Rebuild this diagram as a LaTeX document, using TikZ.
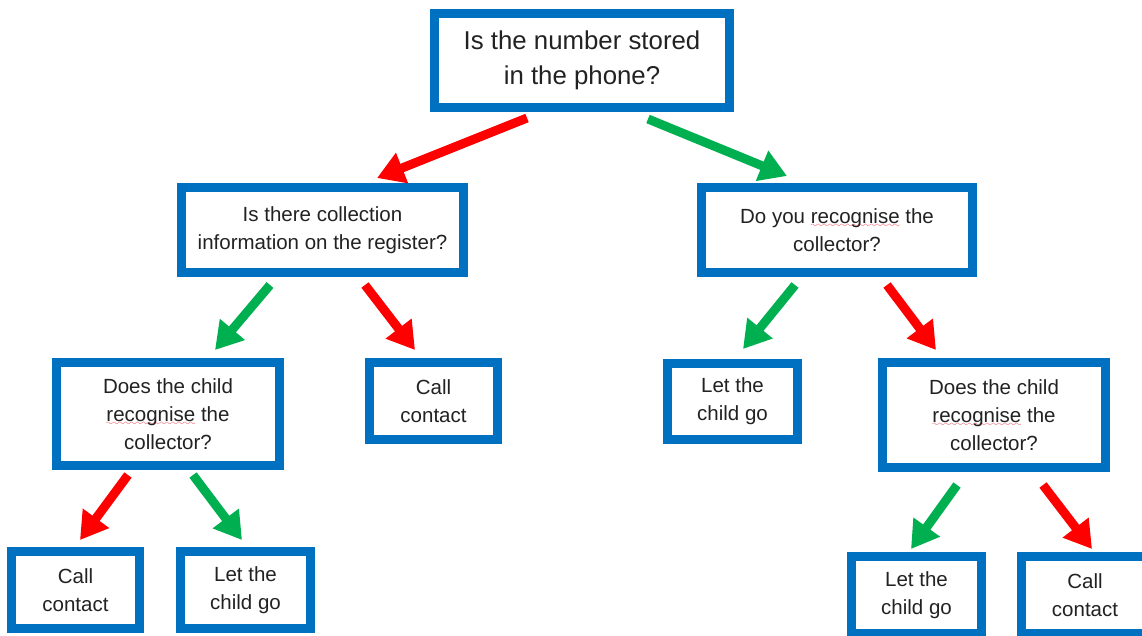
\documentclass[tikz,border=0pt]{standalone}
\usepackage{fontspec}
\setmainfont{Liberation Sans}
\usetikzlibrary{arrows.meta}
\definecolor{boxblue}{HTML}{0070C0}
\definecolor{arrred}{HTML}{FF0000}
\definecolor{arrgreen}{HTML}{00B050}
\definecolor{txt}{HTML}{222222}
\definecolor{spellred}{HTML}{E81123}
\font\wavefont=lasy10 at 8.5pt
\newsavebox\spellbox
\newcommand\spell[1]{\sbox\spellbox{#1}\rlap{\raisebox{-4pt}[0pt][0pt]{\hbox to\wd\spellbox{\color{spellred}\xleaders\hbox{\wavefont\char58}\hfill}}}\usebox\spellbox}
\begin{document}
\begin{tikzpicture}[x=1pt,y=-1pt,
  box/.style={draw=boxblue, line width=9pt, fill=white, inner sep=0pt, align=center, text=txt,
    font=\fontsize{20.5}{28}\selectfont},
  yesarrow/.style={draw=arrgreen, line width=9pt, -{Triangle[width=31pt,length=27pt]}},
  noarrow/.style={draw=arrred, line width=9pt, -{Triangle[width=31pt,length=27pt]}}]
\useasboundingbox (0,0) rectangle (1142,635);
\clip (0,0) rectangle (1142,635);

\node[box, minimum width=295pt, minimum height=94pt, font=\fontsize{25.8}{35}\selectfont] (top) at (582,60.5) {Is the number stored\\in the phone?};
\node[box, minimum width=282pt, minimum height=85pt] (reg) at (322.5,230) {Is there collection\\information on the register?};
\node[box, minimum width=271pt, minimum height=85pt] (you) at (837,230) {Do you \spell{recognise} the\\collector?};
\node[box, minimum width=223pt, minimum height=103pt] (childL) at (168,414) {Does the child\\\spell{recognise} the\\collector?};
\node[box, minimum width=128pt, minimum height=77pt] (callM) at (433.5,401) {Call\\contact};
\node[box, minimum width=130pt, minimum height=76pt] (letM) at (732.5,401.5) {Let the\\child go};
\node[box, minimum width=223pt, minimum height=105pt] (childR) at (994,415) {Does the child\\\spell{recognise} the\\collector?};
\node[box, minimum width=128pt, minimum height=77pt] (callL) at (75.5,590) {Call\\contact};
\node[box, minimum width=130pt, minimum height=77pt] (letL) at (245.5,590) {Let the\\child go};
\node[box, minimum width=130pt, minimum height=77pt] (letR) at (916.5,595) {Let the\\child go};
\node[box, minimum width=128pt, minimum height=77pt] (callR) at (1085,595) {Call\\contact};

\draw[noarrow]  ([shift={(-55,6)}]top.south) -- ([shift={(54.5,-5)}]reg.north);
\draw[yesarrow] ([shift={(66,7)}]top.south) -- ([shift={(-50,-7)}]you.north);
\draw[yesarrow] ([shift={(-52.5,8)}]reg.south) -- ([shift={(47,-8)}]childL.north);
\draw[noarrow]  ([shift={(42.5,8)}]reg.south) -- ([shift={(-18.5,-8)}]callM.north);
\draw[yesarrow] ([shift={(-42,8)}]you.south) -- ([shift={(10.5,-10)}]letM.north);
\draw[noarrow]  ([shift={(50,8)}]you.south) -- ([shift={(-58,-8)}]childR.north);
\draw[noarrow]  ([shift={(-40,5)}]childL.south) -- ([shift={(4.5,-7)}]callL.north);
\draw[yesarrow] ([shift={(25,5)}]childL.south) -- ([shift={(-3.5,-7)}]letL.north);
\draw[yesarrow] ([shift={(-37,13)}]childR.south) -- ([shift={(-5.5,-3)}]letR.north);
\draw[noarrow]  ([shift={(49,13)}]childR.south) -- ([shift={(7,-3)}]callR.north);
\end{tikzpicture}
\end{document}
